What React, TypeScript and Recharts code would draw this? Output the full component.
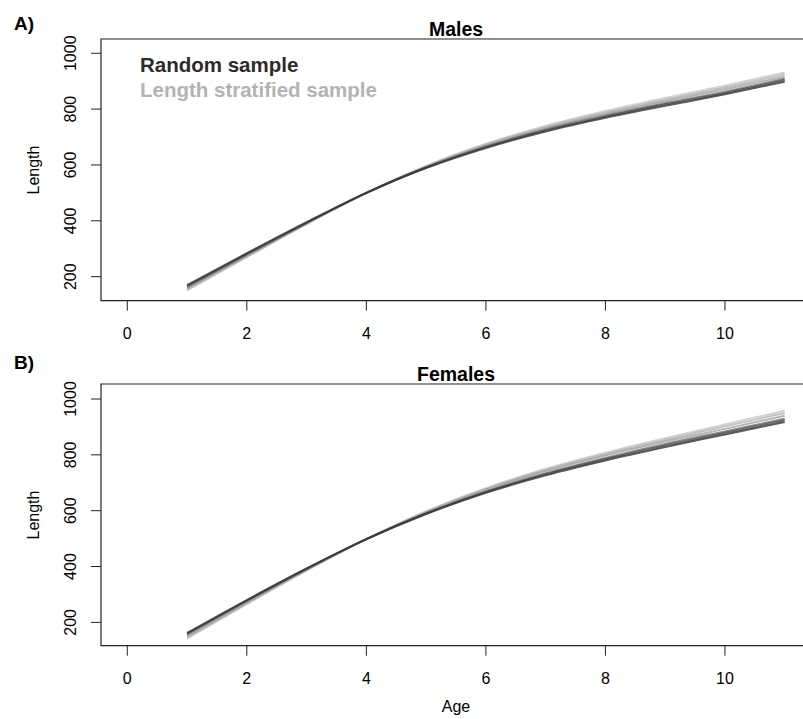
import React from 'react';
import { LineChart, Line, XAxis, YAxis, ReferenceArea } from 'recharts';

const ages = [1, 2, 3, 4, 5, 6, 7, 8, 9, 10, 11];
const xTicks = [0, 2, 4, 6, 8, 10];
const yTicks = [200, 400, 600, 800, 1000];

// males, random sample fits (dark)
const maleRandomA = [170, 284, 395, 500, 589, 661, 720, 769, 812, 853, 898];
const maleRandomB = [166, 281, 393, 500, 591, 664, 724, 773, 817, 858, 904];
const maleRandomC = [163, 279, 392, 500, 592, 666, 727, 777, 821, 862, 909];
// males, length stratified fits (grey)
const maleStratA = [158, 275, 391, 500, 593, 670, 732, 783, 828, 871, 916];
const maleStratB = [154, 272, 389, 500, 595, 673, 736, 788, 834, 878, 924];
const maleStratC = [151, 270, 388, 500, 597, 676, 740, 793, 840, 884, 931];

// females
const femRandomA = [162, 280, 393, 498, 588, 664, 727, 780, 828, 873, 918];
const femRandomB = [159, 278, 392, 498, 590, 667, 731, 785, 834, 879, 924];
const femRandomC = [156, 276, 391, 498, 591, 669, 734, 789, 839, 884, 929];
const femStratA = [150, 271, 388, 498, 594, 675, 742, 798, 848, 893, 940];
const femStratB = [146, 268, 387, 498, 596, 678, 746, 803, 854, 902, 950];
const femStratC = [142, 265, 385, 498, 598, 681, 750, 808, 860, 909, 958];

const font = 'Liberation Sans, Arial, Helvetica, sans-serif';
const axisColor = '#222';

const buildRows = (r: number[][], s: number[][]) =>
  ages.map((age, i) => ({
    age,
    r0: r[0][i], r1: r[1][i], r2: r[2][i],
    s0: s[0][i], s1: s[1][i], s2: s[2][i],
  }));

const maleRows = buildRows([maleRandomA, maleRandomB, maleRandomC], [maleStratA, maleStratB, maleStratC]);
const femRows = buildRows([femRandomA, femRandomB, femRandomC], [femStratA, femStratB, femStratC]);

const XTick = (props: any) => {
  const { x, y, payload } = props;
  return (
    <text x={x} y={y + 28} textAnchor="middle" fontSize={16} fontFamily={font} fill="#000">
      {payload.value}
    </text>
  );
};

const YTick = (props: any) => {
  const { x, y, payload } = props;
  const bx = x - 15;
  return (
    <text x={bx} y={y} transform={`rotate(-90, ${bx}, ${y})`} textAnchor="middle" fontSize={16} fontFamily={font} fill="#000">
      {payload.value}
    </text>
  );
};

// grey (stratified) drawn first, dark (random) on top
const lineSet = [
  { key: 's2', color: '#c8c8c8' },
  { key: 's1', color: '#b3b3b3' },
  { key: 's0', color: '#a0a0a0' },
  { key: 'r2', color: '#6e6e6e' },
  { key: 'r1', color: '#505050' },
  { key: 'r0', color: '#333333' },
];

function Panel({ rows, domain, top }: { rows: any[]; domain: [number, number]; top: number }) {
  return (
    <div style={{ position: 'absolute', left: 0, top }}>
      <LineChart width={830} height={345} data={rows} margin={{ top: 39, right: 19, bottom: 4.3, left: 0 }}>
        <XAxis
          type="number"
          dataKey="age"
          domain={[-0.44, 11.44]}
          ticks={xTicks}
          allowDataOverflow
          axisLine={false}
          tickLine={{ stroke: axisColor }}
          tickSize={10}
          tickMargin={0}
          height={40}
          tick={<XTick />}
        />
        <YAxis
          type="number"
          domain={domain}
          ticks={yTicks}
          allowDataOverflow
          axisLine={false}
          tickLine={{ stroke: axisColor }}
          tickSize={10}
          tickMargin={0}
          width={101}
          tick={<YTick />}
        />
        <ReferenceArea
          x1={-0.44}
          x2={11.44}
          y1={domain[0]}
          y2={domain[1]}
          fill="none"
          stroke={axisColor}
          strokeWidth={1.2}
          ifOverflow="visible"
        />
        {lineSet.map((l) => (
          <Line
            key={l.key}
            type="monotone"
            dataKey={l.key}
            stroke={l.color}
            strokeWidth={2}
            strokeOpacity={0.8}
            dot={false}
            isAnimationActive={false}
          />
        ))}
      </LineChart>
    </div>
  );
}

export default function App() {
  return (
    <div style={{ position: 'absolute', left: 0, top: 0, width: 803, height: 719, overflow: 'hidden', background: '#fff' }}>
      <Panel rows={maleRows} domain={[114, 1051]} top={0} />
      <Panel rows={femRows} domain={[116.4, 1053.8]} top={345} />
      <svg width={803} height={719} style={{ position: 'absolute', left: 0, top: 0, pointerEvents: 'none' }} fontFamily={font}>
        <text x={14} y={29.5} fontSize={19} fontWeight="bold" fill="#000">A)</text>
        <text x={14} y={369} fontSize={19} fontWeight="bold" fill="#000">B)</text>
        <text x={456} y={36} textAnchor="middle" fontSize={19.5} fontWeight="bold" fill="#000">Males</text>
        <text x={456} y={381} textAnchor="middle" fontSize={19.5} fontWeight="bold" fill="#000">Females</text>
        <text x={140} y={72.3} fontSize={20.5} fontWeight="bold" fill="#2b2b2b">Random sample</text>
        <text x={140} y={96.5} fontSize={20.5} fontWeight="bold" fill="#b3b3b3">Length stratified sample</text>
        <text x={39} y={170} transform="rotate(-90, 39, 170)" textAnchor="middle" fontSize={16} fill="#000">Length</text>
        <text x={39} y={515} transform="rotate(-90, 39, 515)" textAnchor="middle" fontSize={16} fill="#000">Length</text>
        <text x={456} y={712} textAnchor="middle" fontSize={16} fill="#000">Age</text>
      </svg>
    </div>
  );
}
